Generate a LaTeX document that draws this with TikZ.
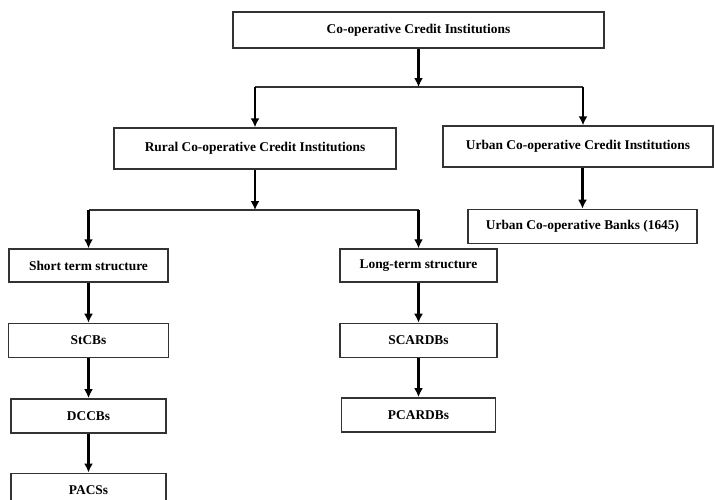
\documentclass[tikz,border=0pt]{standalone}
\usepackage{fontspec}
\setmainfont{Liberation Serif}
\usetikzlibrary{positioning, arrows.meta}

\begin{document}
\begin{tikzpicture}[x=1pt, y=-1pt, >=Latex]

        % Define block styles
        \tikzstyle{box} = [rectangle, draw=black!80, line width=1.4pt, fill=white, text centered, inner sep=0pt, font=\fontsize{13.4}{15}\selectfont\bfseries]
        \tikzstyle{wide} = [box, minimum height=41pt]
        \tikzstyle{small} = [box, minimum width=157pt, minimum height=34pt]
        \tikzstyle{arrow} = [line width=2.4pt, -{Latex[length=9pt, width=9pt]}]
        \tikzstyle{bus} = [draw=black!80, line width=1.3pt]

        \useasboundingbox (0,0) rectangle (715,499);

        % Institutions
        \node (coop) [box, minimum width=371pt, minimum height=36pt] at (418.5,30) {Co-operative Credit Institutions};
        \node (rural) [wide, minimum width=282pt] at (255,148.5) {Rural Co-operative Credit Institutions};
        \node (urban) [wide, minimum width=270pt] at (578,146.5) {Urban Co-operative Credit Institutions};
        \node (ucb) [box, minimum width=229pt, minimum height=34pt, below=41pt of urban, xshift=4.5pt] {Urban Co-operative Banks (1645)};

        % Short term structure
        \node (short) [small, minimum width=159pt, minimum height=33pt] at (88.5,265.5) {Short term structure};
        \node (stcbs) [small, minimum width=160pt, below=40pt of short] {StCBs};
        \node (dccbs) [small, minimum width=155pt, below=40pt of stcbs] {DCCBs};
        \node (pacss) [small, minimum width=155pt, below=39pt of dccbs] {PACSs};

        % Long-term structure
        \node (long) [small, minimum height=33pt] at (418.5,265.5) {Long-term structure};
        \node (scardbs) [small, below=40pt of long] {SCARDBs};
        \node (pcardbs) [small, minimum width=154pt, below=39pt of scardbs] {PCARDBs};

        % Bus lines
        \coordinate (busL) at (255,87);
        \coordinate (busR) at (583,87);
        \coordinate (busA) at (88.5,210);
        \coordinate (busB) at (418.5,210);
        \draw [bus] (busL) -- (busR);
        \draw [bus] (busA) -- (busB);

        % Arrows
        \draw [arrow] (coop) -- (coop |- busL);
        \draw [arrow] (busL) -- (rural);
        \draw [arrow] (busR) -- (busR |- urban.north);
        \draw [arrow] (ucb |- urban.south) -- (ucb);
        \draw [arrow] (rural) -- (rural |- busA);
        \draw [arrow] (busA) -- (short);
        \draw [arrow] (busB) -- (long);
        \draw [arrow] (short) -- (stcbs);
        \draw [arrow] (stcbs) -- (dccbs);
        \draw [arrow] (dccbs) -- (pacss);
        \draw [arrow] (long) -- (scardbs);
        \draw [arrow] (scardbs) -- (pcardbs);

\end{tikzpicture}
\end{document}
